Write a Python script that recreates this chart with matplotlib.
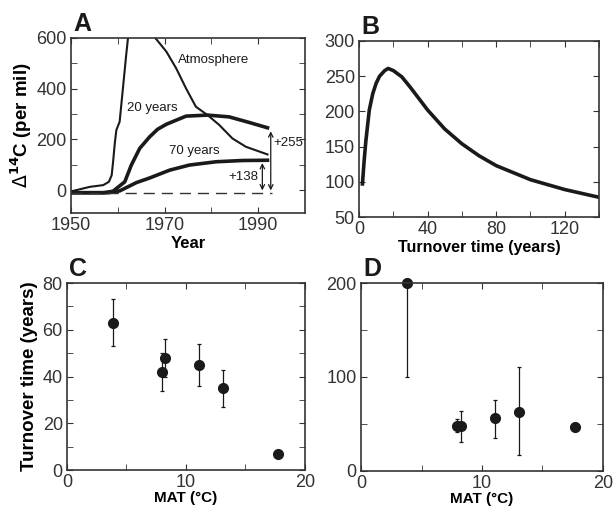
import matplotlib
matplotlib.use('Agg')
from matplotlib import pyplot as plt
from matplotlib.ticker import MultipleLocator, FixedLocator

plt.rcParams['font.family'] = ['Liberation Sans', 'DejaVu Sans']
plt.rcParams['font.size'] = 10.5

# Panel A: delta 14C vs year
atm_year = [1950, 1954, 1956.9, 1958.1, 1958.7, 1959, 1959.4, 1959.7, 1960.4, 1961.1, 1961.8, 1962.3,
            1967.5, 1970.4, 1972.5, 1974.6, 1976.7, 1979.2, 1981.7, 1984.5, 1987.4, 1992]
atm_val = [-5, 13, 20, 33, 59, 112, 191, 237, 270, 401, 533, 620,
           612, 546, 480, 401, 329, 296, 257, 204, 171, 141]

y20_year = [1950, 1957, 1959, 1961.5, 1962.9, 1964.7, 1966.8, 1968.5, 1970.4, 1974.6,
            1979.2, 1983.8, 1988.1, 1992]
y20_val = [-10, -10, -4, 33, 99, 165, 210, 240, 260, 292, 296, 289, 267, 246]

y70_year = [1950, 1958, 1960.4, 1964, 1966.8, 1971.1, 1975.3, 1981, 1986.7, 1992]
y70_val = [-10, -10, -3, 30, 48, 79, 99, 112, 117, 118]

baseline = -12

# Panel B: delta 14C vs turnover time
turn_time = [2, 3, 4, 6, 8, 10, 12, 15, 17, 20, 25, 30, 40, 50, 60, 70, 80, 100, 120, 140]
turn_d14c = [97, 130, 158, 202, 225, 240, 250, 258, 261, 258, 249, 234, 202, 175, 154, 137, 123, 103, 89, 78]

# Panel C: turnover time vs MAT
c_mat = [3.9, 7.96, 8.27, 11.06, 13.07, 17.76]
c_turn = [63, 42, 48, 45, 35, 7]
c_err = [10, 8, 8, 9, 8, 0]

# Panel D
d_mat = [3.82, 7.97, 8.3, 11.1, 13.05, 17.7]
d_turn = [200, 48, 48, 56, 63, 47]
d_err_low = [100, 7, 17, 21, 46, 0]
d_err_high = [0, 7, 16, 20, 48, 0]

fig = plt.figure(figsize=(6.14, 5.08), dpi=100)
axA = fig.add_axes([0.1156, 0.5807, 0.381, 0.3445])
axB = fig.add_axes([0.5847, 0.5728, 0.391, 0.3465])
axC = fig.add_axes([0.1091, 0.0748, 0.3876, 0.368])
axD = fig.add_axes([0.588, 0.0729, 0.394, 0.370])

ink = '#1a1a1a'
for ax in (axA, axB, axC, axD):
    ax.tick_params(which='both', direction='in', top=True, right=True, colors='#333333',
                   labelsize=13, length=4)
    ax.tick_params(which='major', pad=3)
    for s in ax.spines.values():
        s.set_color('#333333')
        s.set_linewidth(1.2)

# A
axA.plot(atm_year, atm_val, color=ink, lw=1.5)
axA.plot(y20_year, y20_val, color=ink, lw=2.6)
axA.plot(y70_year, y70_val, color=ink, lw=2.6)
axA.plot([1950, 1993], [baseline, baseline], color='#333333', lw=1, dashes=(8, 5))
axA.annotate('', xy=(1990.9, 118), xytext=(1990.9, baseline),
             arrowprops=dict(arrowstyle='<->', color=ink, lw=0.9, mutation_scale=8))
axA.annotate('', xy=(1992.7, 243), xytext=(1992.7, baseline),
             arrowprops=dict(arrowstyle='<->', color=ink, lw=0.9, mutation_scale=8))
axA.text(1990.0, 52, '+138', ha='right', va='center', fontsize=9.5, color=ink)
axA.text(1993.3, 185, '+255', ha='left', va='center', fontsize=9.5, color=ink, clip_on=False)
axA.text(1972.8, 513, 'Atmosphere', ha='left', va='center', fontsize=9.5, color=ink)
axA.text(1961.9, 324, '20 years', ha='left', va='center', fontsize=9.5, color=ink)
axA.text(1971, 154, '70 years', ha='left', va='center', fontsize=9.5, color=ink)
axA.set_xlim(1950, 2000)
axA.set_ylim(-90, 600)
axA.xaxis.set_major_locator(FixedLocator([1950, 1970, 1990]))
axA.xaxis.set_minor_locator(FixedLocator([1960, 1980]))
axA.yaxis.set_major_locator(MultipleLocator(200))
axA.yaxis.set_minor_locator(MultipleLocator(100))
axA.set_xlabel('Year', fontweight='bold', fontsize=12, labelpad=1)
axA.set_ylabel(r'$\Delta^{\mathbf{14}}$C (per mil)', fontweight='bold', fontsize=13.5, labelpad=2)

# B
axB.plot(turn_time, turn_d14c, color=ink, lw=2.6)
axB.set_xlim(0, 140)
axB.set_ylim(50, 300)
axB.xaxis.set_major_locator(MultipleLocator(40))
axB.xaxis.set_minor_locator(MultipleLocator(20))
axB.yaxis.set_major_locator(MultipleLocator(50))
axB.set_xlabel('Turnover time (years)', fontweight='bold', fontsize=11.5, labelpad=1)

# C
axC.errorbar(c_mat, c_turn, yerr=c_err, fmt='o', color=ink, ms=7, elinewidth=0.9,
             capsize=1.5, capthick=0.9)
axC.set_xlim(0, 20)
axC.set_ylim(0, 80)
axC.xaxis.set_major_locator(MultipleLocator(10))
axC.xaxis.set_minor_locator(MultipleLocator(5))
axC.yaxis.set_major_locator(MultipleLocator(20))
axC.yaxis.set_minor_locator(MultipleLocator(10))
axC.set_xlabel('MAT (°C)', fontweight='bold', fontsize=11, labelpad=0)
axC.set_ylabel('Turnover time (years)', fontweight='bold', fontsize=13.5, labelpad=3)

# D
axD.errorbar(d_mat, d_turn, yerr=[d_err_low, d_err_high], fmt='o', color=ink, ms=7,
             elinewidth=0.9, capsize=1.5, capthick=0.9, clip_on=False)
axD.set_xlim(0, 20)
axD.set_ylim(0, 200)
axD.xaxis.set_major_locator(MultipleLocator(10))
axD.xaxis.set_minor_locator(MultipleLocator(5))
axD.yaxis.set_major_locator(MultipleLocator(100))
axD.yaxis.set_minor_locator(MultipleLocator(50))
axD.set_xlabel('MAT (°C)', fontweight='bold', fontsize=11, labelpad=0)

# panel letters
for ax, letter in ((axA, 'A'), (axB, 'B'), (axC, 'C'), (axD, 'D')):
    ax.text(0.01, 1.01, letter, transform=ax.transAxes, fontsize=18, fontweight='bold',
            ha='left', va='bottom', color=ink)

fig.savefig('out.png', dpi=100)
